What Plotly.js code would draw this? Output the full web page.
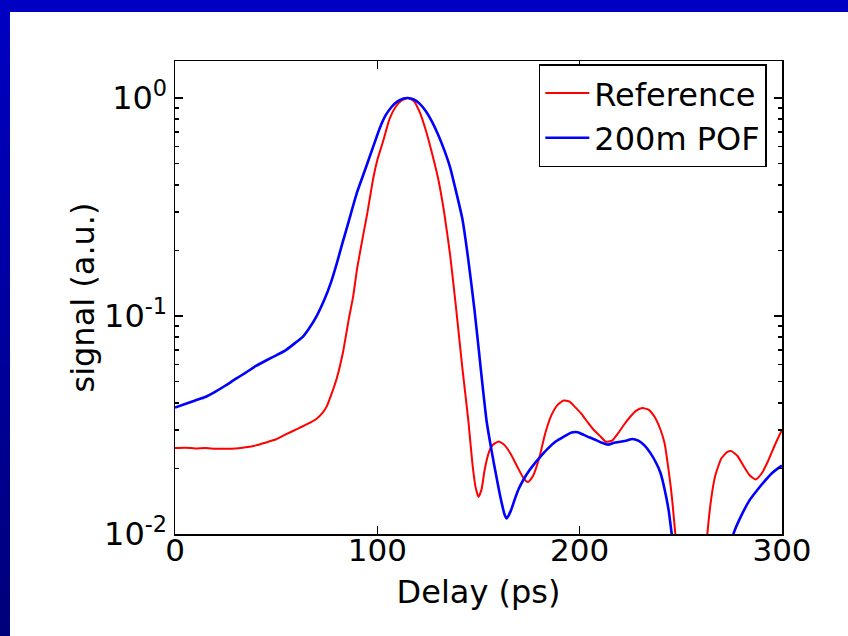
<!DOCTYPE html>
<html><head><meta charset="utf-8">
<script src="https://cdn.plot.ly/plotly-3.0.1.min.js"></script>
<style>
html,body{margin:0;padding:0;width:848px;height:636px;overflow:hidden;background:linear-gradient(to bottom,#0000c4,#00007a);}
#panel{position:absolute;left:10px;top:12px;width:850px;height:630px;background:#fff;overflow:hidden;}
#chart{width:838px;height:624px;}
</style></head><body><div id="panel"><div id="chart"></div></div>
<script>
// Reference pulse
const refDelay = [0,5,10,15,20,25,30,35,40,45,50,55,60,65,70,73,75,77,80,83,86,88,90,93,95,98,100,103,106,109,112,115,118,121,124,127,130,133,136,139,142,145,147,148.5,150,151.5,153,155,157,160,163,166,169,172,174.5,177,180,183,186,189,192,195,198,201,204,207,210,213,216,219,222,225,228,231,234,237,240,242,244,245,246,247.3,250,255,260,263,265,267,270,273,275,278,281,284,287,290,293,296,298,300];
const refSignal = [0.0248,0.0249,0.0247,0.0248,0.0246,0.0246,0.0247,0.0250,0.0255,0.0263,0.0272,0.0287,0.0302,0.0318,0.0338,0.0360,0.0385,0.043,0.052,0.068,0.098,0.122,0.165,0.235,0.295,0.43,0.52,0.64,0.80,0.91,0.975,1.0,0.97,0.86,0.71,0.56,0.43,0.30,0.19,0.107,0.058,0.033,0.021,0.0165,0.0148,0.0160,0.0196,0.0235,0.0256,0.0266,0.0255,0.0232,0.0205,0.0182,0.0173,0.0185,0.0223,0.029,0.035,0.039,0.041,0.0405,0.038,0.0355,0.0325,0.030,0.0282,0.0265,0.0268,0.029,0.0318,0.0345,0.0368,0.0378,0.0372,0.0345,0.030,0.026,0.0195,0.0165,0.0135,0.0099,0.0055,0.003,0.0045,0.0098,0.0145,0.0185,0.0222,0.0238,0.0240,0.0228,0.0205,0.0186,0.0178,0.0190,0.0215,0.025,0.0275,0.030];

// 200m POF pulse
const pofDelay = [0,5,10,15,20,25,30,35,40,45,50,55,60,63,66,70,74,77,80,83,86,90,94,98,101,104,107,110,113,115,118,121,124,127,130,133,136,139,142,145,148,150,152,154,156.5,159,161,163,164,166,168,170,172,175,178,180,184,188,192,196,199,202,205,208,211,214,217,220,223,226,229,232,235,238,240,242,244,245.5,248,255,265,272,276,280,284,288,291,295,298,300];
const pofSignal = [0.038,0.0395,0.041,0.0425,0.045,0.048,0.0515,0.055,0.059,0.0625,0.066,0.070,0.076,0.080,0.087,0.100,0.120,0.142,0.175,0.22,0.275,0.37,0.47,0.60,0.72,0.83,0.91,0.965,0.995,1.0,0.985,0.94,0.87,0.78,0.68,0.58,0.48,0.37,0.28,0.18,0.107,0.072,0.048,0.033,0.024,0.018,0.0145,0.0122,0.0118,0.0128,0.0145,0.0162,0.0176,0.0195,0.0212,0.0223,0.0245,0.0265,0.0279,0.0292,0.0293,0.0285,0.0277,0.027,0.0262,0.0257,0.0262,0.0265,0.0268,0.0273,0.0268,0.0255,0.0235,0.021,0.019,0.016,0.0128,0.0100,0.007,0.004,0.004,0.0065,0.0100,0.0122,0.0143,0.016,0.0173,0.019,0.0200,0.0206];

const seriesNames = ['Reference', '200m POF'];
const xTickVals = [0,100,200,300];
const xTickText = ['0','100','200','300'];
const yTickVals = [0.01,0.1,1];
const yTickText = ['10<sup>-2</sup>','10<sup>-1</sup>','10<sup>0</sup>'];
const yMinorVals = [0.02,0.03,0.04,0.05,0.06,0.07,0.08,0.09,0.2,0.3,0.4,0.5,0.6,0.7,0.8,0.9];

const FONT = 'DejaVu Sans, Liberation Sans, Arial, sans-serif';

const traces = [
  {x: refDelay, y: refSignal, name: seriesNames[0], type: 'scatter', mode: 'lines',
   line: {color: '#ff0000', width: 2, shape: 'spline', smoothing: 0.5}},
  {x: pofDelay, y: pofSignal, name: seriesNames[1], type: 'scatter', mode: 'lines',
   line: {color: '#0000ff', width: 2.6, shape: 'spline', smoothing: 0.5}}
];

const layout = {
  width: 838, height: 624,
  margin: {l: 165, r: 66, t: 49, b: 102},
  paper_bgcolor: '#ffffff', plot_bgcolor: '#ffffff',
  font: {family: FONT, color: '#000', size: 31},
  showlegend: true,
  legend: {x: 0.975, xanchor: 'right', y: 0.993, yanchor: 'top',
    bgcolor: '#fff', bordercolor: '#000', borderwidth: 1.5, itemwidth: 44,
    font: {family: FONT, size: 32, color: '#000'}, tracegroupgap: 0},
  xaxis: {
    range: [0, 300], tickmode: 'array', tickvals: xTickVals, ticktext: xTickText,
    ticks: 'inside', ticklen: 8, tickwidth: 1.5, tickcolor: '#000',
    showline: true, linecolor: '#000', linewidth: 1.5, mirror: 'ticks',
    showgrid: false, zeroline: false, ticklabelstandoff: -12,
    tickfont: {family: FONT, size: 31},
    title: {text: 'Delay (ps)', font: {family: FONT, size: 32}, standoff: 14}
  },
  yaxis: {
    type: 'log', range: [-2, 0.17], tickmode: 'array', tickvals: yTickVals, ticktext: yTickText,
    ticks: 'inside', ticklen: 8, tickwidth: 1.5, tickcolor: '#000',
    minor: {tickmode: 'array', tickvals: yMinorVals, ticks: 'inside', ticklen: 4, tickwidth: 1.5, tickcolor: '#000', showgrid: false},
    showline: true, linecolor: '#000', linewidth: 1.5, mirror: 'ticks',
    showgrid: false, zeroline: false,
    tickfont: {family: FONT, size: 32},
    title: {text: 'signal (a.u.)', font: {family: FONT, size: 32}, standoff: 0}
  }
};

Plotly.newPlot('chart', traces, layout, {displayModeBar: false, staticPlot: true});
</script></body></html>
